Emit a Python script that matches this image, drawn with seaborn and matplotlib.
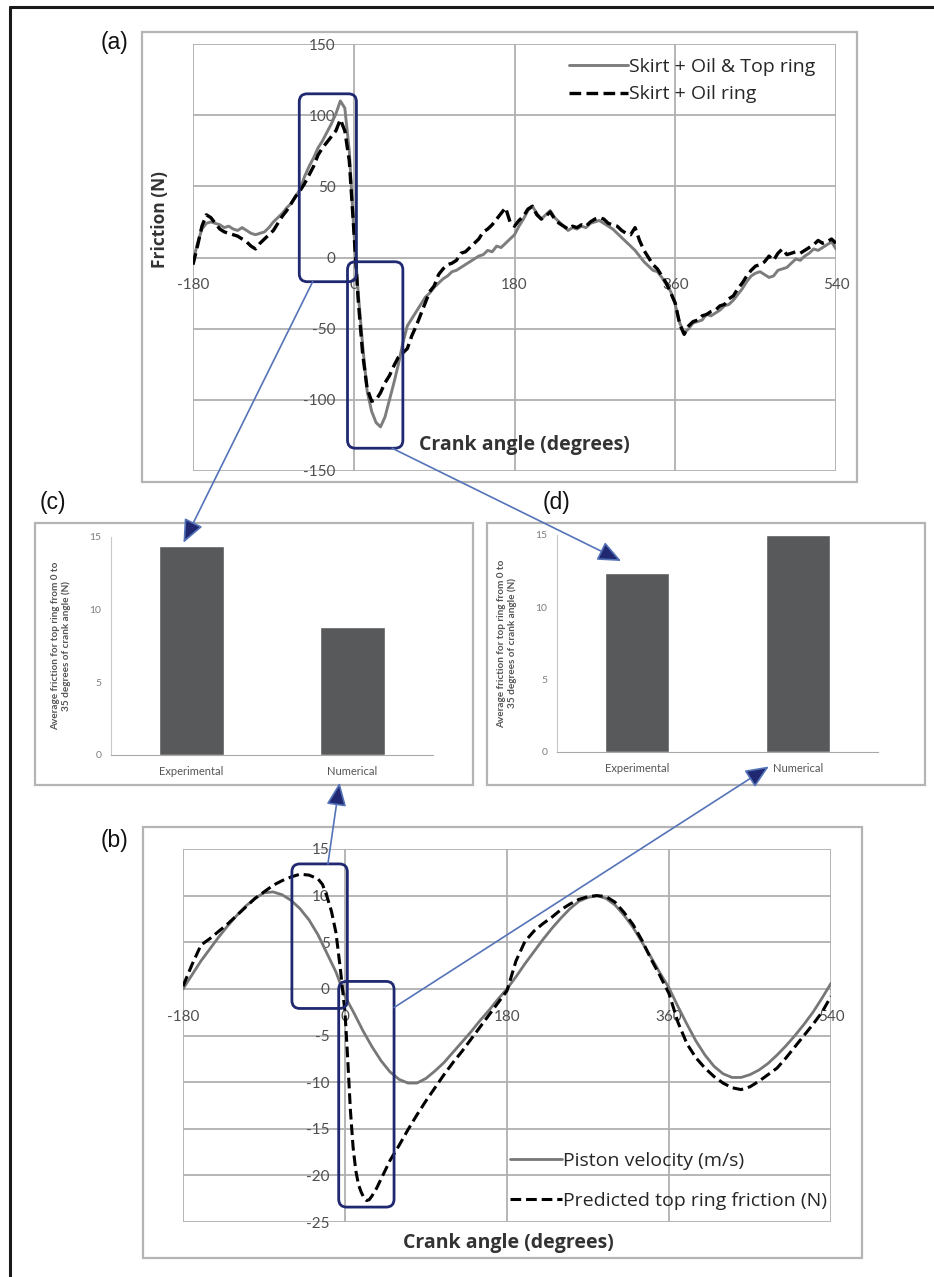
import matplotlib
matplotlib.use("Agg")
import matplotlib.pyplot as plt
import seaborn as sns
from matplotlib.patches import FancyBboxPatch, Rectangle, ConnectionPatch
from matplotlib.transforms import IdentityTransform
from matplotlib.lines import Line2D

# ------------------------------------------------------------------ data
# panel (a): measured friction vs crank angle (5 degree steps, -180..540)
crank_a = list(range(-180, 545, 5))
friction_skirt_oil_top = [
    -3, 10, 20, 24, 25, 24, 23, 21, 22, 20,
    19, 21, 19, 17, 16, 17, 18, 21, 25, 28,
    31, 35, 38, 43, 48, 57, 64, 70, 77, 82,
    88, 94, 101, 110, 105, 75, 20, -25, -62, -94,
    -108, -116, -119, -112, -100, -88, -75, -60, -48, -43,
    -38, -33, -28, -25, -21, -18, -15, -13, -10, -9,
    -7, -5, -3, -1, 1, 2, 5, 4, 8, 7,
    10, 13, 16, 22, 27, 33, 36, 31, 27, 30,
    33, 28, 25, 22, 19, 21, 20, 22, 21, 24,
    25, 26, 24, 22, 20, 17, 14, 11, 8, 5,
    1, -3, -6, -9, -10, -14, -19, -24, -33, -46,
    -53, -50, -46, -45, -44, -40, -41, -39, -37, -34,
    -33, -30, -26, -22, -17, -13, -11, -10, -12, -14,
    -13, -9, -8, -7, -4, -1, -2, 1, 3, 6,
    5, 7, 9, 11, 6,
]
friction_skirt_oil = [
    -5, 8, 22, 30, 28, 24, 20, 18, 17, 16,
    15, 13, 11, 8, 6, 10, 13, 16, 19, 24,
    29, 33, 38, 43, 47, 52, 58, 64, 72, 77,
    81, 85, 89, 97, 89, 68, 20, -30, -68, -92,
    -101, -100, -95, -88, -83, -76, -70, -67, -64, -55,
    -48, -40, -32, -24, -20, -12, -8, -5, -4, -2,
    3, 4, 7, 10, 13, 18, 20, 23, 27, 31,
    35, 25, 22, 26, 29, 34, 36, 30, 27, 29,
    32, 27, 24, 22, 20, 22, 21, 23, 22, 25,
    27, 28, 27, 24, 23, 22, 19, 17, 16, 21,
    12, 5, 0, -5, -8, -13, -18, -25, -32, -47,
    -54, -48, -45, -44, -41, -40, -38, -37, -34, -33,
    -29, -27, -22, -18, -13, -9, -6, -5, -3, 1,
    -2, 3, 6, 2, 3, 4, 3, 5, 7, 9,
    12, 10, 11, 13, 10,
]

# panel (b): piston velocity and predicted top ring friction
crank_b = list(range(-180, 545, 10))
piston_velocity = [
    0.0, 1.5, 3.0, 4.3, 5.6, 6.8, 7.9, 8.9, 9.7, 10.3,
    10.4, 10.1, 9.5, 8.6, 7.4, 5.8, 3.8, 1.8, -0.8, -2.6,
    -4.5, -6.2, -7.7, -8.9, -9.7, -10.1, -10.1, -9.6, -8.8, -7.9,
    -6.8, -5.7, -4.6, -3.4, -2.3, -1.1, 0.0, 1.3, 2.7, 4.0,
    5.3, 6.5, 7.6, 8.6, 9.4, 9.8, 10.0, 9.7, 9.0, 7.9,
    6.6, 5.0, 3.4, 1.7, 0.1, -1.9, -3.8, -5.6, -7.1, -8.3,
    -9.1, -9.5, -9.5, -9.2, -8.7, -8.0, -7.1, -6.1, -5.0, -3.8,
    -2.5, -1.0, 0.6,
]
crank_fric = ([-180, -170, -160, -150, -140, -130, -120, -110, -100, -90,
               -80, -70, -60, -50, -40, -30, -25, -20, -15, -10, -5, 0,
               3, 6, 9, 12, 15, 18, 21, 24, 27, 30, 35, 40, 45, 50]
              + list(range(60, 545, 10)))
predicted_top_ring_friction = [
    0.3, 2.6, 4.7, 5.4, 6.2, 7.0, 7.9, 8.8, 9.7, 10.4,
    11.1, 11.6, 12.0, 12.3, 12.2, 11.8, 11.2, 9.9, 8.3, 6.0, 2.0, -2.5,
    -7.5, -13.0, -17.0, -19.5, -21.0, -21.8, -22.4, -22.7, -22.6, -22.2,
    -21.4, -20.4, -19.4, -18.4,
    -16.8, -15.1, -13.5, -12.0, -10.6, -9.2, -7.9, -6.7, -5.4, -4.1,
    -2.8, -1.5, -0.2, 3.0, 5.1, 6.2, 7.0, 7.7, 8.5, 9.1,
    9.6, 9.9, 10.0, 9.9, 9.3, 8.2, 6.9, 5.2, 3.2, 1.4,
    -0.5, -3.6, -5.9, -7.4, -8.5, -9.4, -10.1, -10.6, -10.8, -10.5,
    -9.9, -9.2, -8.5, -7.4, -6.2, -5.0, -3.8, -2.5, -0.8,
]

# panels (c) and (d): average top ring friction, 0 to 35 degrees
methods = ["Experimental", "Numerical"]
avg_friction_c = [14.4, 8.8]
avg_friction_d = [12.4, 15.0]

x_ticks = [-180, 0, 180, 360, 540]
y_ticks_a = [-150, -100, -50, 0, 50, 100, 150]
y_ticks_b = [-25, -20, -15, -10, -5, 0, 5, 10, 15]
bar_ticks = [0, 5, 10, 15]

# ------------------------------------------------------------------ style
sns.set_style("white")
plt.rcParams["font.family"] = ["Lato", "DejaVu Sans"]
plt.rcParams["axes.unicode_minus"] = False
WIDE = ["Open Sans", "DejaVu Sans"]

W, H = 934, 1277
fig = plt.figure(figsize=(W / 100, H / 100), dpi=100)


def rect(l, t, r, b):
    return [l / W, 1 - b / H, (r - l) / W, (b - t) / H]


GRID = "#b0b0b0"
TICKC = "#505050"
LABELC = "#333333"
NAVY = "#1f2870"
ARROW_LINE = "#5573b8"

ax_a = fig.add_axes(rect(193, 44, 836, 471))
ax_b = fig.add_axes(rect(183, 849, 831, 1222))
ax_c = fig.add_axes(rect(111, 537, 433, 755))
ax_d = fig.add_axes(rect(557, 535, 878, 752))
for ax in (ax_a, ax_b, ax_c, ax_d):
    ax.patch.set_alpha(0)


def style_line_axes(ax, ylim, yticks, xpad, ypad):
    ax.set_xlim(-180, 540)
    ax.set_ylim(*ylim)
    ax.set_xticks(x_ticks)
    ax.set_yticks(yticks)
    ax.grid(True, color=GRID, lw=1.3)
    ax.set_axisbelow(True)
    for s in ax.spines.values():
        s.set_color("none")
    ax.spines["left"].set_position(("data", 0))
    ax.spines["bottom"].set_position(("data", 0))
    ax.tick_params(length=0, labelsize=11, labelcolor=TICKC)
    ax.tick_params(axis="x", pad=xpad)
    ax.tick_params(axis="y", pad=ypad)


# ---- panel (a)
sns.lineplot(x=crank_a, y=friction_skirt_oil_top, ax=ax_a, color="#7d7d7d",
             lw=2.1, label="Skirt + Oil & Top ring", estimator=None, sort=False)
sns.lineplot(x=crank_a, y=friction_skirt_oil, ax=ax_a, color="black",
             lw=2.4, linestyle=(0, (3.5, 1.6)), label="Skirt + Oil ring",
             estimator=None, sort=False)
style_line_axes(ax_a, (-150, 150), y_ticks_a, xpad=15, ypad=13)
ax_a.legend(loc="upper right", bbox_to_anchor=(0.967, 0.968), frameon=False,
            prop={"family": WIDE, "size": 14}, handlelength=3.0,
            handletextpad=0.05, labelspacing=0.5, borderpad=0,
            borderaxespad=0)
ax_a.set_xlabel("Crank angle (degrees)", fontsize=14, fontweight="bold",
                color=LABELC, va="center", family=WIDE)
ax_a.xaxis.set_label_coords(0.516, 0.061)
ax_a.set_ylabel("Friction (N)", fontsize=12.5, fontweight="bold",
                color=LABELC, va="center", family=WIDE)
ax_a.yaxis.set_label_coords(-0.051, 0.59)

# ---- panel (b)
sns.lineplot(x=crank_b, y=piston_velocity, ax=ax_b, color="#777777", lw=2.0,
             label="Piston velocity (m/s)", estimator=None, sort=False)
sns.lineplot(x=crank_fric, y=predicted_top_ring_friction, ax=ax_b,
             color="black", lw=2.2, linestyle=(0, (3.5, 1.6)),
             label="Predicted top ring friction (N)", estimator=None, sort=False)
style_line_axes(ax_b, (-25, 15), y_ticks_b, xpad=15, ypad=11)
ax_b.legend(loc="lower right", bbox_to_anchor=(0.994, 0.032), frameon=False,
            prop={"family": WIDE, "size": 14}, handlelength=2.7,
            handletextpad=0.05, labelspacing=1.12, borderpad=0,
            borderaxespad=0)
ax_b.set_xlabel("Crank angle (degrees)", fontsize=14, fontweight="bold",
                color=LABELC, va="center", family=WIDE)
ax_b.xaxis.set_label_coords(0.502, -0.056)
ax_b.set_ylabel("")


# ---- panels (c), (d)
def bar_panel(ax, vals):
    sns.barplot(x=methods, y=vals, ax=ax, color="#58595b", width=0.4,
                saturation=1)
    ax.set_xlim(-0.5, 1.5)
    ax.set_ylim(0, 15)
    ax.set_yticks(bar_ticks)
    ax.spines["top"].set_visible(False)
    ax.spines["right"].set_visible(False)
    ax.spines["left"].set_color("#c8c8c8")
    ax.spines["bottom"].set_color("#a8a8a8")
    ax.tick_params(axis="y", length=4, width=0.8, color="#c8c8c8",
                   labelsize=7.5, labelcolor="#7f7f7f", pad=3)
    ax.tick_params(axis="x", which="major", length=0, labelsize=8,
                   labelcolor="#555555", pad=8)
    ax.set_xticks([-0.5, 0.5, 1.5], minor=True)
    ax.tick_params(axis="x", which="minor", length=4, color="#a8a8a8")
    ax.set_xlabel("")
    ax.set_ylabel("Average friction for top ring from 0 to\n"
                  "35 degrees of crank angle (N)", fontsize=7.2,
                  fontweight="bold", color="#555555", linespacing=1.2)
    ax.yaxis.set_label_coords(-0.125, 0.5)


bar_panel(ax_c, avg_friction_c)
bar_panel(ax_d, avg_friction_d)

# ------------------------------------------------------------------ frames
for (l, t, r, b) in [(142, 32, 857, 482), (143, 827, 862, 1258),
                     (35, 523, 473, 785), (487, 523, 925, 785)]:
    fig.add_artist(Rectangle((l / W, 1 - b / H), (r - l) / W, (b - t) / H,
                             transform=fig.transFigure, fill=False,
                             ec="#b4b4b4", lw=1.6))

fig.add_artist(Line2D([10 / W, 1], [1 - 7 / H, 1 - 7 / H],
                      transform=fig.transFigure, color="#1a1a1a", lw=2.2))
fig.add_artist(Line2D([10 / W, 10 / W], [0, 1 - 7 / H],
                      transform=fig.transFigure, color="#1a1a1a", lw=2.2))

for txt, x, y in [("(a)", 115, 43), ("(b)", 115, 840), ("(c)", 53, 503),
                  ("(d)", 557, 503)]:
    fig.text(x / W, 1 - y / H, txt, ha="center", va="center", fontsize=16.5,
             family=["Liberation Sans", "DejaVu Sans"], color="#111111")

# ------------------------------------------------------------------ highlight boxes
fig.canvas.draw()
highlight = [
    (ax_a, (-61, -17), (3, 115)),
    (ax_a, (-7, -134), (55, -3)),
    (ax_b, (-59, -2.1), (2.6, 13.4)),
    (ax_b, (-7, -23.4), (54.5, 0.8)),
]
for ax, (x0, y0), (x1, y1) in highlight:
    (px0, py0), (px1, py1) = ax.transData.transform([(x0, y0), (x1, y1)])
    fig.add_artist(FancyBboxPatch((px0, py0), px1 - px0, py1 - py0,
                                  boxstyle="round,pad=0,rounding_size=8",
                                  transform=IdentityTransform(), fill=False,
                                  ec=NAVY, lw=2.0, zorder=5))

# ------------------------------------------------------------------ arrows
arrows = [
    (ax_a, (-46, -17), ax_c, (-0.05, 14.6)),
    (ax_a, (43, -134), ax_d, (-0.1, 13.2)),
    (ax_b, (-19, 13.4), ax_c, (0.92, -1.9)),
    (ax_b, (54.5, -2.0), ax_d, (0.82, -1.0)),
]
for axA, xyA, axB, xyB in arrows:
    con = ConnectionPatch(xyA=xyA, coordsA=axA.transData,
                          xyB=xyB, coordsB=axB.transData,
                          arrowstyle="-|>,head_length=0.65,head_width=0.28",
                          mutation_scale=22, lw=1.2, ec=ARROW_LINE, fc=NAVY,
                          shrinkA=0, shrinkB=0, annotation_clip=False,
                          zorder=6)
    fig.add_artist(con)

fig.savefig("out.png", dpi=100)
